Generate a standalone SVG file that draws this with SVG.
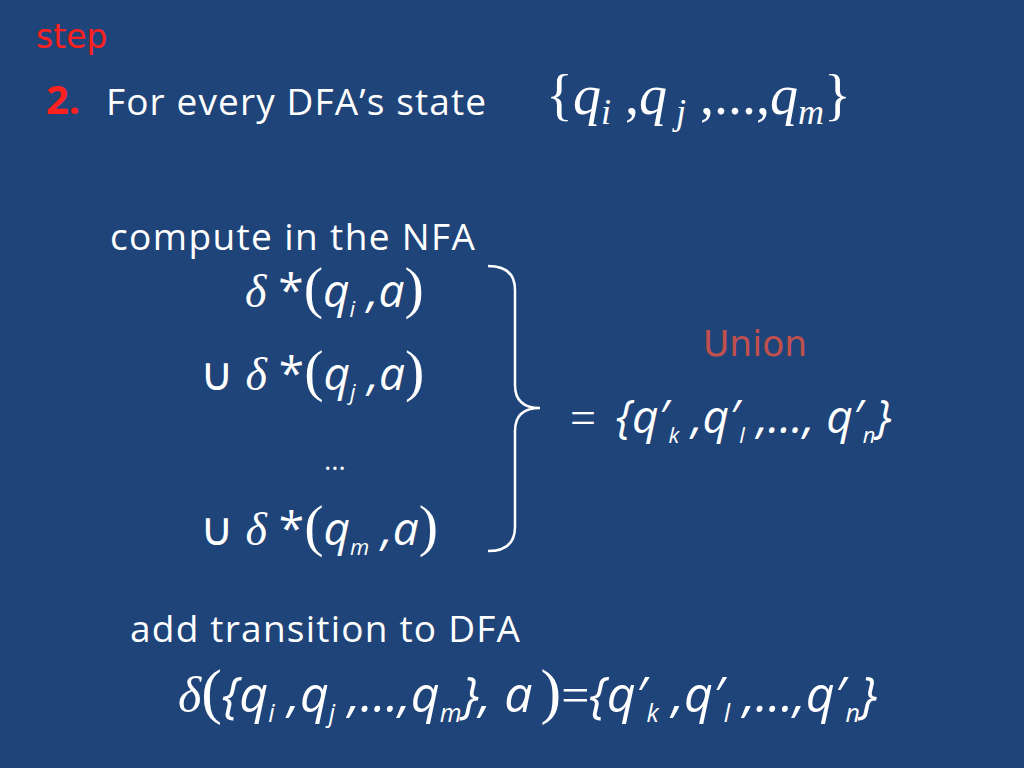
<svg xmlns="http://www.w3.org/2000/svg" width="1024" height="768" viewBox="0 0 1024 768">
<style>
.t{font-family:"Open Sans","Liberation Sans",sans-serif;fill:#fff}
.m{font-family:"Open Sans","Liberation Sans",sans-serif;fill:#fff;font-style:italic}
.s{font-family:"Liberation Serif",serif;fill:#fff}
</style>
<rect width="1024" height="768" fill="#1F4479"/>
<text x="36" y="48" font-family="'DejaVu Sans',sans-serif" font-size="33" fill="#FF2020">step</text>
<text x="46" y="114" font-family="'Open Sans','Liberation Sans',sans-serif" font-weight="bold" font-size="40" fill="#FF2020">2.</text>
<text class="t" x="106" y="115" font-size="37" textLength="380">For every DFA’s state</text>
<text class="s" x="546" y="114" font-size="56">{<tspan font-style="italic">q</tspan><tspan font-style="italic" font-size="36" dy="10">i</tspan><tspan dy="-10"> ,</tspan><tspan font-style="italic">q</tspan><tspan font-style="italic" font-size="36" dy="10"> j</tspan><tspan dy="-10"> ,...,</tspan><tspan font-style="italic">q</tspan><tspan font-style="italic" font-size="36" dy="10">m</tspan><tspan dy="-10">}</tspan></text>
<text class="t" x="110" y="250" font-size="37" textLength="365">compute in the NFA</text>
<g font-size="46">
<text x="245" y="307"><tspan class="s" font-style="italic">δ</tspan><tspan class="t"> *</tspan><tspan class="s" font-size="58">(</tspan><tspan class="m">q</tspan><tspan class="m" font-size="22" dy="10">i</tspan><tspan class="m" dy="-10"> ,a</tspan><tspan class="s" font-size="58">)</tspan></text>
<text x="200" y="390"><tspan class="s">∪</tspan><tspan class="s" font-style="italic"> δ</tspan><tspan class="t"> *</tspan><tspan class="s" font-size="58">(</tspan><tspan class="m">q</tspan><tspan class="m" font-size="22" dy="10">j</tspan><tspan class="m" dy="-10"> ,a</tspan><tspan class="s" font-size="58">)</tspan></text>
<text class="t" x="324" y="470" font-size="28">…</text>
<text x="200" y="545"><tspan class="s">∪</tspan><tspan class="s" font-style="italic"> δ</tspan><tspan class="t"> *</tspan><tspan class="s" font-size="58">(</tspan><tspan class="m">q</tspan><tspan class="m" font-size="22" dy="10">m</tspan><tspan class="m" dy="-10"> ,a</tspan><tspan class="s" font-size="58">)</tspan></text>
</g>
<path d="M488 266 Q515 266 515 290 L515 385 Q515 408 540 408 Q515 408 515 431 L515 527 Q515 551 488 551" fill="none" stroke="#fff" stroke-width="2.5"/>
<text x="703" y="356" font-family="'DejaVu Sans',sans-serif" font-size="36" fill="#C0504D">Union</text>
<text x="570" y="433" font-size="46"><tspan class="s">=</tspan><tspan class="m" dx="20">{q′</tspan><tspan class="m" font-size="22" dy="10">k</tspan><tspan class="m" dy="-10"> ,q′</tspan><tspan class="m" font-size="22" dy="10">l</tspan><tspan class="m" dy="-10"> ,…, q′</tspan><tspan class="m" font-size="22" dy="10">n</tspan><tspan class="m" dy="-10">}</tspan></text>
<text class="t" x="130" y="642" font-size="37" textLength="390">add transition to DFA</text>
<text x="178" y="712" font-size="50"><tspan class="s" font-style="italic">δ</tspan><tspan class="s" font-size="62">(</tspan><tspan class="m">{q</tspan><tspan class="m" font-size="25" dy="10">i</tspan><tspan class="m" dy="-10"> ,q</tspan><tspan class="m" font-size="25" dy="10">j</tspan><tspan class="m" dy="-10"> ,…,q</tspan><tspan class="m" font-size="25" dy="10">m</tspan><tspan class="m" dy="-10">},   a</tspan><tspan class="s" font-size="62" dx="8">)</tspan><tspan class="s">=</tspan><tspan class="m">{q′</tspan><tspan class="m" font-size="25" dy="10">k</tspan><tspan class="m" dy="-10"> ,q′</tspan><tspan class="m" font-size="25" dy="10">l</tspan><tspan class="m" dy="-10"> ,…,q′</tspan><tspan class="m" font-size="25" dy="10">n</tspan><tspan class="m" dy="-10">}</tspan></text>
</svg>
